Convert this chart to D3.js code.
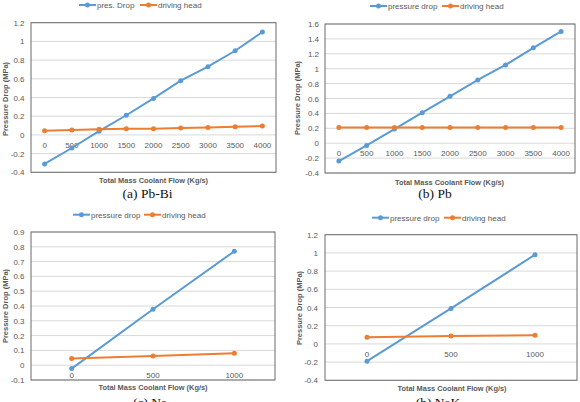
<!DOCTYPE html>
<html><head><meta charset="utf-8">
<script src="https://cdn.jsdelivr.net/npm/d3@7"></script>
<style>
html,body{margin:0;padding:0;background:#fff;}
svg{display:block;}
text{font-family:"Liberation Sans Narrow","Arial Narrow","Liberation Sans",sans-serif;fill:#595959;}
.cap{font-family:"Liberation Serif","Times New Roman",serif;fill:#111;}
</style></head>
<body>
<svg id="c" width="580" height="402"></svg>
<script>
// ---------- data ----------
const catsLong = ["0","500","1000","1500","2000","2500","3000","3500","4000"];
const catsShort = ["0","500","1000"];

const pbbiPressure = [-0.31,-0.14,0.04,0.21,0.39,0.58,0.73,0.90,1.10];
const pbbiHead     = [0.045,0.053,0.060,0.065,0.067,0.073,0.080,0.087,0.095];

const pbPressure = [-0.24,-0.03,0.19,0.41,0.63,0.85,1.05,1.28,1.50];
const pbHead     = [0.21,0.21,0.21,0.21,0.21,0.21,0.21,0.21,0.21];

const naPressure = [-0.023,0.378,0.77];
const naHead     = [0.045,0.063,0.081];

const nakPressure = [-0.19,0.39,0.98];
const nakHead     = [0.072,0.086,0.096];

const yTicksA = [-0.4,-0.2,0,0.2,0.4,0.6,0.8,1,1.2];
const yTicksB = [-0.4,-0.2,0,0.2,0.4,0.6,0.8,1,1.2,1.4,1.6];
const yTicksC = [-0.1,0,0.1,0.2,0.3,0.4,0.5,0.6,0.7,0.8,0.9];
const yTicksD = [-0.4,-0.2,0,0.2,0.4,0.6,0.8,1,1.2];

const xTitle = "Total Mass Coolant Flow (Kg/s)";
const yTitle = "Pressure Drop (MPa)";
const headName = "driving head";

const BLUE = "#5b9bd5", ORANGE = "#ed7d31";

const svg = d3.select("#c");

function panel(o){
  const g = svg.append("g");
  const x = d3.scaleBand().domain(o.cats).range([o.left,o.right]);
  const y = d3.scaleLinear().domain([o.ticks[0],o.ticks[o.ticks.length-1]]).range([o.bottom,o.top]);
  // gridlines
  g.selectAll("line.grid").data(o.ticks).enter().append("line")
    .attr("x1",o.left).attr("x2",o.right)
    .attr("y1",d=>y(d)).attr("y2",d=>y(d))
    .attr("stroke","#d9d9d9").attr("stroke-width",1);
  // border
  g.append("rect").attr("x",o.left).attr("y",o.top)
    .attr("width",o.right-o.left).attr("height",o.bottom-o.top)
    .attr("fill","none").attr("stroke","#6b6b6b").attr("stroke-width",1);
  // y axis labels
  g.selectAll("text.yt").data(o.ticks).enter().append("text")
    .attr("x",o.ylabX).attr("y",d=>y(d)+3)
    .attr("text-anchor","end").attr("font-size",8)
    .text(d=>String(+d.toFixed(2)));
  // x labels at the zero line
  g.selectAll("text.xt").data(o.cats).enter().append("text")
    .attr("x",d=>x(d)+x.bandwidth()/2).attr("y",y(0)+13)
    .attr("text-anchor","middle").attr("font-size",8)
    .text(d=>d);
  // series
  const series = [{v:o.pressure,c:BLUE},{v:o.head,c:ORANGE}];
  const line = d3.line().x((d,i)=>x(o.cats[i])+x.bandwidth()/2).y(d=>y(d));
  series.forEach(s=>{
    g.append("path").attr("d",line(s.v)).attr("fill","none")
      .attr("stroke",s.c).attr("stroke-width",2);
    g.selectAll(null).data(s.v).enter().append("circle")
      .attr("cx",(d,i)=>x(o.cats[i])+x.bandwidth()/2).attr("cy",d=>y(d))
      .attr("r",2.5).attr("fill",s.c);
  });
  // legend
  const leg = [{n:o.pName,c:BLUE,x0:o.legX[0]},{n:headName,c:ORANGE,x0:o.legX[1]}];
  leg.forEach(l=>{
    g.append("line").attr("x1",l.x0).attr("x2",l.x0+17)
      .attr("y1",o.legY).attr("y2",o.legY).attr("stroke",l.c).attr("stroke-width",2);
    g.append("circle").attr("cx",l.x0+8.5).attr("cy",o.legY).attr("r",2.5).attr("fill",l.c);
    g.append("text").attr("x",l.x0+18).attr("y",o.legY+3).attr("font-size",8).text(l.n);
  });
  // axis titles
  g.append("text").attr("x",o.xtX).attr("y",o.xtY).attr("text-anchor","middle")
    .attr("font-size",7.4).attr("font-weight","bold").text(xTitle);
  g.append("text").attr("transform",`translate(${o.ytX},${o.ytY}) rotate(-90)`)
    .attr("text-anchor","middle").attr("font-size",7.5).attr("font-weight","bold").text(yTitle);
  // caption
  g.append("text").attr("class","cap").attr("x",o.capX).attr("y",o.capY)
    .attr("text-anchor","middle").attr("font-size",13.5).text(o.cap);
}

panel({cats:catsLong,pressure:pbbiPressure,head:pbbiHead,ticks:yTicksA,pName:"pres. Drop",
  left:31,right:276,top:22.7,bottom:172.3,ylabX:24.5,legY:5,legX:[79,140],
  xtX:153.5,xtY:183,ytX:8,ytY:99,capX:147.5,capY:198,cap:"(a) Pb-Bi"});
panel({cats:catsLong,pressure:pbPressure,head:pbHead,ticks:yTicksB,pName:"pressure drop",
  left:325,right:575,top:24,bottom:173,ylabX:319,legY:6,legX:[370,442],
  xtX:449.5,xtY:185,ytX:300,ytY:98,capX:435,capY:198,cap:"(b) Pb"});
panel({cats:catsShort,pressure:naPressure,head:naHead,ticks:yTicksC,pName:"pressure drop",
  left:31,right:275,top:232,bottom:380,ylabX:24.5,legY:214.7,legX:[73,144],
  xtX:153,xtY:390,ytX:8,ytY:306,capX:150,capY:407,cap:"(c) Na"});
panel({cats:catsShort,pressure:nakPressure,head:nakHead,ticks:yTicksD,pName:"pressure drop",
  left:325,right:577,top:234.7,bottom:380.3,ylabX:318,legY:217.7,legX:[372,444],
  xtX:452,xtY:391,ytX:302,ytY:308,capX:438,capY:407,cap:"(b) NaK"});
</script>
</body></html>
